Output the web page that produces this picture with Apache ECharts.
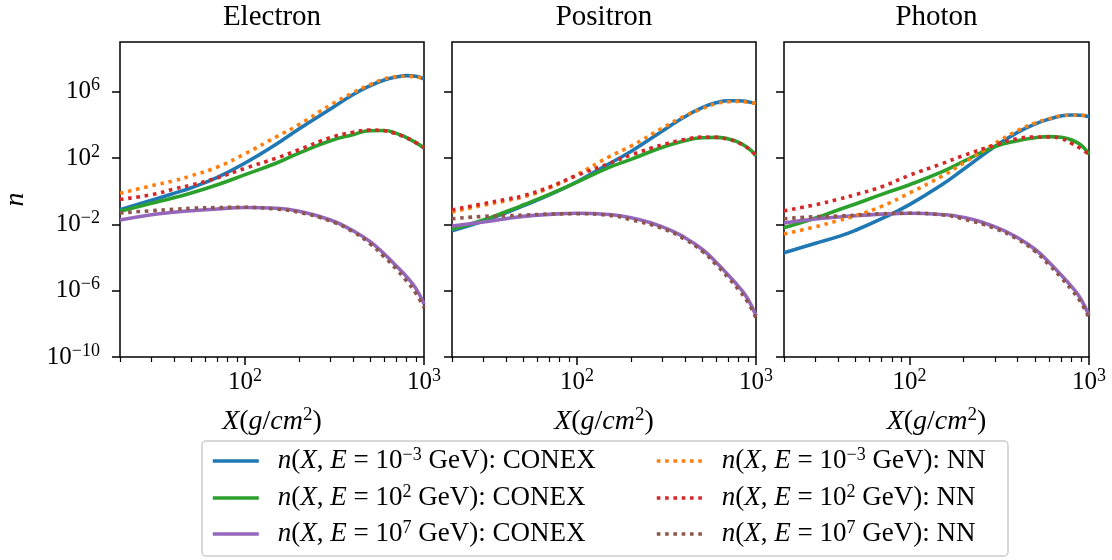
<!DOCTYPE html>
<html>
<head>
<meta charset="utf-8">
<script src="https://cdn.jsdelivr.net/npm/echarts@6/dist/echarts.min.js"></script>
<style>
html, body { margin: 0; padding: 0; background: #fff; }
#chart { width: 1112px; height: 560px; }
</style>
</head>
<body>
<div id="chart"></div>
<script>
// slant depth X (g/cm^2) where the curves were read
const depths = [20, 30, 40, 50, 70, 100, 150, 200, 300, 400, 500, 600, 700, 800, 900, 1000];
const majorTicksX = [100, 1000];
const minorTicksX = [20, 30, 40, 50, 60, 70, 80, 90, 200, 300, 400, 500, 600, 700, 800, 900];
const ticksY = [1e-10, 1e-6, 1e-2, 1e2, 1e6];
const panelTitles = ['Electron', 'Positron', 'Photon'];
const energyExp = ['-3', '2', '7'];

// log10(n)
const electronConexM3 = [-1.12, -0.55, -0.13, 0.21, 0.84, 1.70, 2.85, 3.75, 4.96, 5.82, 6.36, 6.71, 6.89, 6.97, 6.93, 6.77];
const electronNnM3    = [-0.13, 0.33, 0.63, 0.93, 1.46, 2.26, 3.29, 4.02, 5.2, 5.94, 6.43, 6.77, 6.91, 6.93, 6.89, 6.79];
const electronConex2  = [-1.21, -0.73, -0.39, -0.11, 0.39, 1.0, 1.70, 2.3, 3.04, 3.41, 3.65, 3.66, 3.49, 3.23, 2.93, 2.61];
const electronNn2     = [-0.49, -0.21, 0.13, 0.37, 0.81, 1.38, 2.00, 2.5, 3.23, 3.55, 3.69, 3.65, 3.45, 3.21, 2.93, 2.62];
const electronConex7  = [-1.74, -1.42, -1.27, -1.18, -1.07, -0.98, -1.03, -1.21, -1.74, -2.38, -3.04, -3.79, -4.51, -5.16, -5.86, -6.8];
const electronNn7     = [-1.31, -1.18, -1.09, -1.03, -0.99, -0.97, -1.08, -1.27, -1.80, -2.44, -3.17, -3.97, -4.69, -5.42, -6.16, -7.03];

const positronConexM3 = [-2.38, -1.8, -1.3, -0.88, -0.22, 0.57, 1.64, 2.4, 3.63, 4.49, 5.04, 5.34, 5.46, 5.46, 5.40, 5.28];
const positronNnM3    = [-1.25, -0.85, -0.58, -0.35, 0.2, 1.0, 2.06, 2.72, 3.81, 4.54, 4.98, 5.28, 5.40, 5.42, 5.36, 5.30];
const positronConex2  = [-2.3, -1.74, -1.24, -0.83, -0.19, 0.55, 1.42, 1.92, 2.65, 3.05, 3.22, 3.25, 3.15, 2.95, 2.62, 2.15];
const positronNn2     = [-1.13, -0.75, -0.49, -0.27, 0.25, 0.96, 1.66, 2.18, 2.8, 3.12, 3.26, 3.25, 3.12, 2.92, 2.6, 2.15];
const positronConex7  = [-2.1, -1.86, -1.66, -1.52, -1.4, -1.33, -1.4, -1.6, -2.15, -2.8, -3.5, -4.3, -5.06, -5.75, -6.5, -7.5];
const positronNn7     = [-1.66, -1.52, -1.48, -1.44, -1.38, -1.36, -1.45, -1.72, -2.25, -2.9, -3.62, -4.45, -5.22, -5.95, -6.7, -7.65];

const photonConexM3 = [-3.71, -3.14, -2.74, -2.36, -1.66, -0.81, 0.36, 1.32, 2.71, 3.55, 4.05, 4.35, 4.54, 4.6, 4.58, 4.49];
const photonNnM3    = [-2.58, -2.14, -1.78, -1.48, -0.91, -0.11, 0.88, 1.7, 2.89, 3.65, 4.11, 4.37, 4.54, 4.58, 4.58, 4.52];
const photonConex2  = [-2.2, -1.62, -1.13, -0.77, -0.19, 0.39, 1.15, 1.8, 2.7, 3.05, 3.22, 3.29, 3.25, 3.09, 2.79, 2.23];
const photonNn2     = [-1.18, -0.81, -0.49, -0.21, 0.27, 0.96, 1.64, 2.15, 2.79, 3.17, 3.27, 3.27, 3.17, 2.89, 2.57, 2.23];
const photonConex7  = [-1.92, -1.68, -1.56, -1.48, -1.38, -1.33, -1.4, -1.58, -2.15, -2.8, -3.5, -4.3, -5.06, -5.75, -6.5, -7.5];
const photonNn7     = [-1.66, -1.54, -1.5, -1.45, -1.36, -1.33, -1.42, -1.68, -2.25, -2.9, -3.62, -4.45, -5.22, -5.95, -6.7, -7.65];

const panels = [
    {conex: [electronConexM3, electronConex2, electronConex7], nn: [electronNnM3, electronNn2, electronNn7]},
    {conex: [positronConexM3, positronConex2, positronConex7], nn: [positronNnM3, positronNn2, positronNn7]},
    {conex: [photonConexM3, photonConex2, photonConex7], nn: [photonNnM3, photonNn2, photonNn7]}
];
const conexColors = ['#1f77b4', '#2ca02c', '#9467bd'];
const nnColors = ['#ff7f0e', '#d62728', '#8c564b'];

const FONT = '"Liberation Serif", "DejaVu Serif", serif';
const LINE_W = 3.6;
const DOTS = [3.6, 4.7];
const gridLefts = [120, 452, 784];
const gridWidths = [304, 304, 305];

const tickRich = {
    b: {fontFamily: FONT, fontSize: 25, lineHeight: 30, color: '#000'},
    s: {fontFamily: FONT, fontSize: 18, lineHeight: 18, verticalAlign: 'top', color: '#000'}
};
const nameRich = {
    r: {fontFamily: FONT, fontSize: 28, lineHeight: 32, color: '#000'},
    i: {fontFamily: FONT, fontSize: 28, lineHeight: 32, fontStyle: 'italic', color: '#000'},
    s: {fontFamily: FONT, fontSize: 19, lineHeight: 19, verticalAlign: 'top', color: '#000'}
};
const legendRich = {
    r: {fontFamily: FONT, fontSize: 27, lineHeight: 30, color: '#000'},
    i: {fontFamily: FONT, fontSize: 27, lineHeight: 30, fontStyle: 'italic', color: '#000'},
    s: {fontFamily: FONT, fontSize: 18, lineHeight: 17, verticalAlign: 'top', color: '#000'}
};

function powLabel(v) {
    const e = Math.round(Math.log10(v));
    return '{b|10}{s|' + (e < 0 ? '\u2212' + (-e) : e) + '}';
}

const grids = [], xAxes = [], yAxes = [], series = [];
for (let p = 0; p < 3; p++) {
    grids.push({left: gridLefts[p], top: 42, width: gridWidths[p], height: 315,
        outerBoundsMode: 'none', containLabel: false,
        show: true, borderColor: '#000', borderWidth: 1.5, backgroundColor: 'transparent'});
    xAxes.push({
        type: 'log', logBase: 10, gridIndex: p, min: 20, max: 1000, position: 'bottom',
        axisLine: {show: false},
        splitLine: {show: false},
        axisTick: {show: true, customValues: majorTicksX, length: 8, lineStyle: {color: '#000', width: 1.5}},
        axisLabel: {show: true, customValues: majorTicksX, margin: 10, formatter: powLabel, rich: tickRich},
        name: '{i|X}{r|(}{i|g}{r|/}{i|cm}{s|2}{r|)}', nameLocation: 'middle', nameGap: 49,
        nameTextStyle: {rich: nameRich}
    });
    yAxes.push({
        type: 'log', logBase: 10, gridIndex: p, min: 1e-10, max: 1e9,
        axisLine: {show: false},
        splitLine: {show: false},
        axisTick: {show: true, customValues: ticksY, length: 8, lineStyle: {color: '#000', width: 1.5}},
        axisLabel: {show: p === 0, customValues: ticksY, margin: 20, formatter: powLabel, rich: tickRich},
        name: p === 0 ? '{i|n}' : '', nameLocation: 'middle', nameGap: 88, nameRotate: 90,
        nameTextStyle: {rich: nameRich}
    });
}
// minor ticks on x
for (let p = 0; p < 3; p++) {
    xAxes.push({
        type: 'log', logBase: 10, gridIndex: p, min: 20, max: 1000, position: 'bottom',
        axisLine: {show: false}, splitLine: {show: false}, axisLabel: {show: false},
        axisTick: {show: true, customValues: minorTicksX, length: 5, lineStyle: {color: '#000', width: 1.2}}
    });
}

function seriesName(kind, e) { return kind + '|' + energyExp[e]; }

panels.forEach((panel, p) => {
    ['conex', 'nn'].forEach(kind => {
        panel[kind].forEach((arr, e) => {
            const color = kind === 'conex' ? conexColors[e] : nnColors[e];
            series.push({
                type: 'line',
                name: seriesName(kind === 'conex' ? 'CONEX' : 'NN', e),
                xAxisIndex: p, yAxisIndex: p,
                data: depths.map((x, i) => [x, Math.pow(10, arr[i])]),
                symbol: 'none', showSymbol: false, smooth: 0.5, silent: true,
                z: kind === 'nn' ? 3 : 2,
                itemStyle: {color: color},
                lineStyle: {color: color, width: LINE_W, cap: 'butt',
                    type: kind === 'nn' ? DOTS : 'solid'}
            });
        });
    });
});

function legendText(name) {
    const parts = name.split('|');
    const exp = parts[1].replace('-', '\u2212');
    return '{i|n}{r|(}{i|X}{r|, }{i|E}{r| = 10}{s|' + exp + '}{r| GeV): ' + parts[0] + '}';
}

const legendCols = [211, 655];
const legendRows = [446, 483, 519];
const legends = [];
['CONEX', 'NN'].forEach((kind, c) => {
    for (let e = 0; e < 3; e++) {
        legends.push({
            data: [seriesName(kind, e)],
            left: legendCols[c], top: legendRows[e],
            orient: 'vertical', padding: 0,
            itemWidth: 46, itemHeight: 14,
            selectedMode: false,
            formatter: legendText,
            itemStyle: {opacity: 0},
            lineStyle: {width: LINE_W, type: kind === 'NN' ? DOTS : 'solid', cap: 'butt'},
            textStyle: {rich: legendRich, padding: [0, 0, 0, 14]}
        });
    }
});

const titleCenters = [272, 604, 936.5];
const graphics = titleCenters.map((cx, i) => ({
    type: 'text', x: cx, y: 17,
    style: {text: panelTitles[i], fill: '#000', fontFamily: FONT, fontSize: 29,
        align: 'center', verticalAlign: 'middle'}
}));
graphics.push({
    type: 'rect', z: 1,
    shape: {x: 202, y: 441, width: 806, height: 115, r: 4},
    style: {fill: 'rgba(255,255,255,0.8)', stroke: '#cccccc', lineWidth: 1.5}
});

const chart = echarts.init(document.getElementById('chart'));
chart.setOption({
    animation: false,
    backgroundColor: '#fff',
    grid: grids,
    xAxis: xAxes,
    yAxis: yAxes,
    legend: legends,
    graphic: graphics,
    series: series
});
</script>
</body>
</html>
